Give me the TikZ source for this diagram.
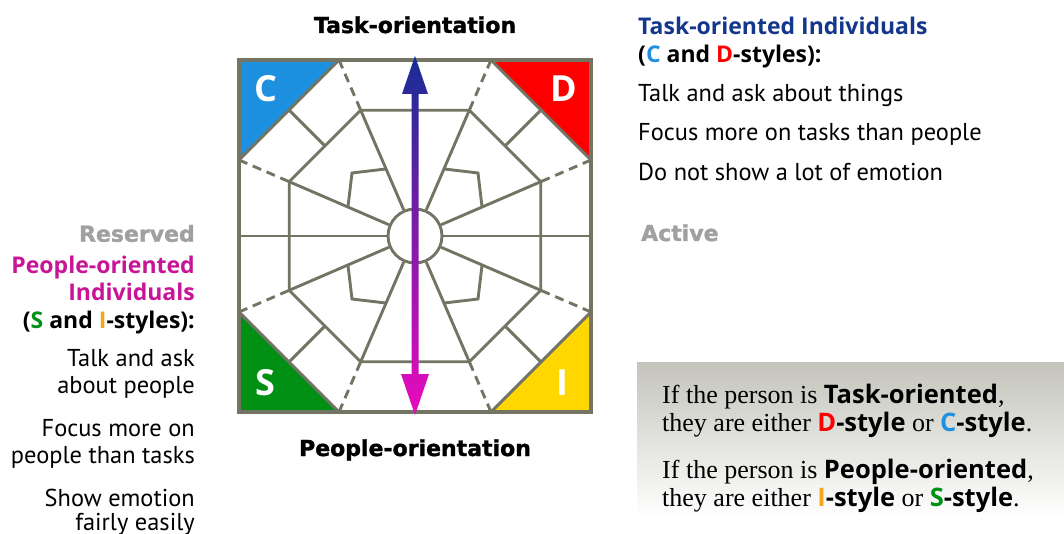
\documentclass[tikz,border=0pt]{standalone}
\usepackage{fontspec}
\setmainfont{PT Sans}
\newfontfamily\hdrfont{Open Sans}
\newfontfamily\heavyfont[FakeBold=1.5]{DejaVu Sans}
\newfontfamily\boxserif{Liberation Serif}
\usetikzlibrary{calc}

\definecolor{gridgray}{RGB}{116,116,100}
\definecolor{cblue}{RGB}{30,144,224}
\definecolor{dred}{RGB}{255,0,0}
\definecolor{sgreen}{RGB}{0,145,20}
\definecolor{iyellow}{RGB}{255,215,0}
\definecolor{iorange}{RGB}{245,165,30}
\definecolor{navy}{RGB}{20,55,140}
\definecolor{arrowtop}{RGB}{22,45,150}
\definecolor{arrowbot}{RGB}{235,10,190}
\definecolor{magtext}{RGB}{200,20,150}
\definecolor{graytext}{RGB}{160,160,160}
\definecolor{boxgray}{RGB}{196,196,188}

\tikzset{
  gridline/.style={draw=gridgray, line width=2.9pt},
  dashline/.style={gridline, dash pattern=on 9pt off 6pt},
  heavy/.style={font=\heavyfont\bfseries\fontsize{22}{22}\selectfont, inner sep=0pt},
  hdr/.style={font=\hdrfont\bfseries\fontsize{23}{23}\selectfont, inner sep=0pt},
  body/.style={font=\fontsize{24.4}{24.4}\selectfont, inner sep=0pt},
  boxtext/.style={font=\boxserif\fontsize{26}{26}\selectfont, inner sep=0pt},
  letter/.style={font=\hdrfont\bfseries\fontsize{36}{36}\selectfont, text=white, inner sep=0pt}
}
\newcommand{\bsans}[1]{{\hdrfont\bfseries\fontsize{25.5}{25.5}\selectfont #1}}

\begin{document}
\begin{tikzpicture}[x=1pt,y=-1pt]
  \useasboundingbox (0,0) rectangle (1064,534);

  % shaded note box
  \shade[top color=boxgray, bottom color=white] (637,362) rectangle (1064,518);

  \coordinate (O) at (415,236);

  % corner triangles
  \fill[cblue] (239,60) -- (339,60) -- (239,160) -- cycle;
  \fill[dred] (591,60) -- (491,60) -- (591,160) -- cycle;
  \fill[sgreen] (239,412) -- (339,412) -- (239,312) -- cycle;
  \fill[iyellow] (591,412) -- (491,412) -- (591,312) -- cycle;

  % octagons
  \foreach \i/\dx/\dy in {1/76/-176, 2/176/-76, 3/176/76, 4/76/176,
                          5/-76/176, 6/-176/76, 7/-176/-76, 8/-76/-176}
    \coordinate (o\i) at ($(O)+(\dx,\dy)$);
  \foreach \i in {1,...,8}
    \coordinate (m\i) at ($(O)!0.7146!(o\i)$);
  \node[circle, gridline, fill=white, minimum size=54pt, inner sep=0pt] (hub) at (O) {};

  \draw[gridline] (m1) -- (m2) -- (m3) -- (m4) -- (m5) -- (m6) -- (m7) -- (m8) -- cycle;
  \foreach \i in {1,...,8} {
    \draw[dashline] (o\i) -- (m\i);
    \draw[gridline] (m\i) -- (hub);
  }

  % axes
  \coordinate (west) at (239,236);
  \coordinate (east) at (591,236);
  \coordinate (north) at (415,60);
  \coordinate (south) at (415,412);
  \foreach \e in {west,east,north,south}
    \draw[gridline] (\e) -- (hub);

  % diagonal spokes and inner kites
  \foreach \a/\b in {1/2,3/4,5/6,7/8} {
    \coordinate (d\a) at ($(o\a)!0.5!(o\b)$);
    \coordinate (k\a) at ($(m\a)!0.5!(m\b)$);
    \draw[gridline] (d\a) -- (k\a);
    \draw[gridline] ($(O)!0.381!(o\a)$) -- ($(O)!0.5!(d\a)$) -- ($(O)!0.381!(o\b)$);
  }

  \draw[gridline] (o1) -- (o2) (o3) -- (o4) (o5) -- (o6) (o7) -- (o8);
  \draw[gridline, line width=3.2pt] (239,60) rectangle (591,412);

  % orientation arrow
  \shade[top color=arrowtop, bottom color=arrowbot]
    (415,56) -- (428,94) -- (418.5,94) -- (418.5,374) -- (429,374) -- (415,415)
    -- (401,374) -- (411.5,374) -- (411.5,94) -- (402,94) -- cycle;

  % style letters
  \node[letter] (c) at (266,89) {C};
  \node[letter] (d) at (564,89) {D};
  \node[letter] (s) at (265,383) {S};
  \node[letter] (i) at (562,383) {I};

  % axis titles
  \node[heavy, anchor=base] (taskor) at (415,33) {Task-orientation};
  \node[heavy, anchor=base] (peopleor) at (415,456) {People-orientation};
  \node[heavy, text=graytext, anchor=base west] (active) at (641,241) {Active};
  \node[heavy, text=graytext, anchor=base east] (reserved) at (195,241.7) {Reserved};

  % task-oriented column
  \node[hdr, text=navy, anchor=base west] (taskind) at (638,35) {Task-oriented Individuals};
  \node[hdr, anchor=base west] (cdstyles) at (638,62.7) {(\textcolor{cblue}{C} and \textcolor{dred}{D}-styles):};
  \node[body, anchor=base west] (things) at (638,101.7) {Talk and ask about things};
  \node[body, anchor=base west] (tasks) at (638,141) {Focus more on tasks than people};
  \node[body, anchor=base west] (noemotion) at (638,181) {Do not show a lot of emotion};

  % people-oriented column
  \node[hdr, text=magtext, anchor=base east] (peopleind) at (195,273.3) {People-oriented};
  \node[hdr, text=magtext, anchor=base east] (indiv) at (195,300.7) {Individuals};
  \node[hdr, anchor=base east] (sistyles) at (195,328) {(\textcolor{sgreen}{S} and \textcolor{iorange}{I}-styles):};
  \node[body, anchor=base east] (talk) at (195,366.7) {Talk and ask};
  \node[body, anchor=base east] (aboutp) at (195,393) {about people};
  \node[body, anchor=base east] (focus) at (195,436.7) {Focus more on};
  \node[body, anchor=base east] (ptasks) at (195,463) {people than tasks};
  \node[body, anchor=base east] (show) at (195,506.7) {Show emotion};
  \node[body, anchor=base east] (fairly) at (195,530) {fairly easily};

  % note box text
  \node[boxtext, anchor=base west] (n1) at (662,403.3) {If the person is \bsans{Task-oriented},};
  \node[boxtext, anchor=base west] (n2) at (662,431.7) {they are either \bsans{\textcolor{dred}{D}-style} or \bsans{\textcolor{cblue}{C}-style}.};
  \node[boxtext, anchor=base west] (n3) at (662,478.3) {If the person is \bsans{People-oriented},};
  \node[boxtext, anchor=base west] (n4) at (662,506.7) {they are either \bsans{\textcolor{iorange}{I}-style} or \bsans{\textcolor{sgreen}{S}-style}.};
\end{tikzpicture}
\end{document}
